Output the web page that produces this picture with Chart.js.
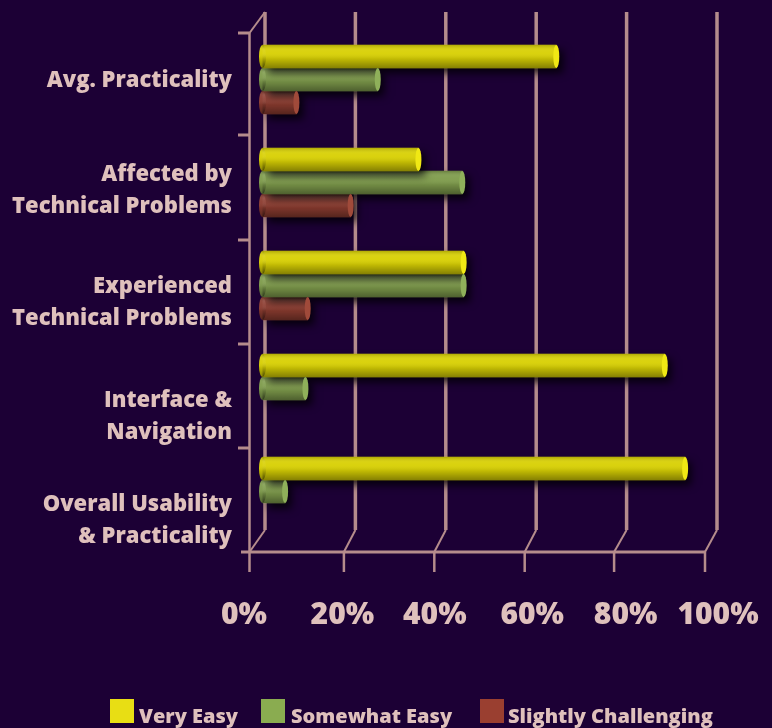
<!DOCTYPE html>
<html><head><meta charset="utf-8">
<style>html,body{margin:0;padding:0;background:#1c0035}canvas{display:block}</style>
<script src="https://cdn.jsdelivr.net/npm/chart.js@4"></script></head>
<body><canvas id="c" width="772" height="728"></canvas>
<script>
const categories = [["Avg. Practicality"],["Affected by","Technical Problems"],["Experienced","Technical Problems"],["Interface &","Navigation"],["Overall Usability","& Practicality"]];
const veryEasy = [65,34.5,44.5,89,93.5];
const somewhatEasy = [25.5,44.2,44.5,9.5,5];
const slightlyChallenging = [7.5,19.5,10,null,null];
const tickValues = [0,20,40,60,80,100];
const tickLabels = ["0%","20%","40%","60%","80%","100%"];
const seriesNames = ["Very Easy","Somewhat Easy","Slightly Challenging"];
const seriesColors = ["#d8d004","#7f9c4c","#8c3c30"];
const capColors = ["#f0e814","#8fb05a","#a04a3a"];
const legendColors = ["#e8de14","#8aac50","#9a3f30"];

const BG="#1c0035", LINE="#b58c8c", TEXT="#dfc0bc";
const FONT='"Open Sans"';
const barShift=-2.5;
const frontShift=[-15.5,-11.5,-11.5,-11.5,-12.5,-12];
const labelShift=[-21,-13,-11,-4,-1,1];
const catLabelCentre=[81,191,303,417,521];
const legendX=[[110,139],[261,291],[480,508]];

function line(ctx,x1,y1,x2,y2,w){ctx.lineWidth=w;ctx.beginPath();ctx.moveTo(x1,y1);ctx.lineTo(x2,y2);ctx.stroke();}

const frame={
  id:'frame',
  beforeDatasetsDraw(chart){
    const ctx=chart.ctx,xs=chart.scales.x;
    ctx.save();
    ctx.fillStyle=BG;ctx.fillRect(0,0,chart.width,chart.height);
    ctx.strokeStyle=LINE;ctx.lineCap='butt';
    const backTop=12,backBottom=530,frontTop=33,frontBottom=552;
    tickValues.forEach((v,i)=>{
      const bx=xs.getPixelForValue(v),fx=bx+frontShift[i];
      line(ctx,bx,backTop,bx,backBottom,3.5);
      line(ctx,bx,backBottom,fx,frontBottom,2);
      line(ctx,fx,frontBottom,fx,572,2.5);
    });
    const x0=xs.getPixelForValue(0)+frontShift[0];
    const x1=xs.getPixelForValue(100)+frontShift[5];
    line(ctx,x0,frontTop,xs.getPixelForValue(0),backTop,2);
    line(ctx,x0,frontTop,x0,frontBottom,2.5);
    line(ctx,241,frontBottom,x1,frontBottom,3);
    [33,135,240,344,448].forEach(y=>line(ctx,238,y,x0,y,3));
    ctx.restore();
    ctx.save();
    ctx.translate(barShift,0);
    ctx.shadowColor='rgba(0,0,0,0.8)';ctx.shadowBlur=8;ctx.shadowOffsetX=6;ctx.shadowOffsetY=5;
  },
  afterDatasetsDraw(chart){
    const ctx=chart.ctx;
    ctx.restore();
    ctx.save();
    ctx.translate(barShift,0);
    chart.data.datasets.forEach((ds,i)=>{
      chart.getDatasetMeta(i).data.forEach((el,j)=>{
        if(ds.data[j]==null)return;
        const t=el.y-el.height/2,h=el.height,l=el.base,r=el.x;
        const g=ctx.createLinearGradient(0,t,0,t+h);
        g.addColorStop(0,'rgba(0,0,0,0.18)');
        g.addColorStop(0.22,'rgba(255,255,255,0.06)');
        g.addColorStop(0.36,'rgba(255,255,255,0.04)');
        g.addColorStop(0.6,'rgba(0,0,0,0.10)');
        g.addColorStop(1,'rgba(0,0,0,0.38)');
        ctx.fillStyle=ds.backgroundColor;
        ctx.beginPath();ctx.ellipse(l,el.y,3.5,h/2,0,0,Math.PI*2);ctx.fill();
        ctx.fillStyle=g;
        ctx.beginPath();ctx.ellipse(l,el.y,3.5,h/2,0,0,Math.PI*2);ctx.fill();
        ctx.fillRect(l,t,r-l,h);
        ctx.fillStyle=capColors[i];
        ctx.beginPath();ctx.ellipse(r,el.y,3,h/2,0,0,Math.PI*2);ctx.fill();
      });
    });
    ctx.restore();
    ctx.save();
    ctx.fillStyle=TEXT;
    ctx.textAlign='right';ctx.textBaseline='middle';
    ctx.font='800 22px '+FONT;
    categories.forEach((lines,i)=>{
      const c=catLabelCentre[i],n=lines.length;
      lines.forEach((s,k)=>ctx.fillText(s,232,c+(k-(n-1)/2)*32));
    });
    ctx.textAlign='center';ctx.font='800 30px '+FONT;
    const xs=chart.scales.x;
    tickValues.forEach((v,i)=>ctx.fillText(tickLabels[i],xs.getPixelForValue(v)+labelShift[i],615));
    ctx.textAlign='left';ctx.font='800 20px '+FONT;
    chart.data.datasets.forEach((ds,i)=>{
      ctx.fillStyle=legendColors[i];
      ctx.fillRect(legendX[i][0],699,24,24);
      ctx.fillStyle=TEXT;
      ctx.fillText(ds.label,legendX[i][1],717);
    });
    ctx.restore();
  }
};

new Chart(document.getElementById('c'),{
  type:'bar',
  data:{
    labels:categories,
    datasets:[veryEasy,somewhatEasy,slightlyChallenging].map((d,i)=>({
      label:seriesNames[i],data:d,backgroundColor:seriesColors[i],borderWidth:0,barThickness:23
    }))
  },
  options:{
    indexAxis:'y',responsive:false,animation:false,
    layout:{padding:{left:265,right:55,top:28,bottom:185}},
    scales:{
      x:{display:false,min:0,max:100},
      y:{display:false}
    },
    plugins:{legend:{display:false},tooltip:{enabled:false}}
  },
  plugins:[frame]
});
</script></body></html>
